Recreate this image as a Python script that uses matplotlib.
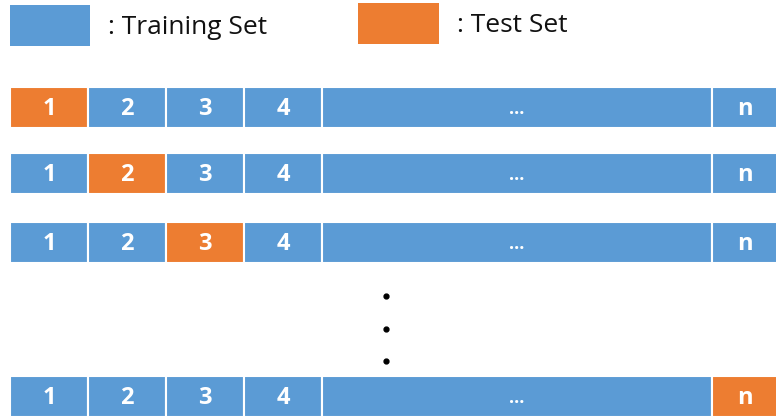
import matplotlib.pyplot as plt

# data
cell_labels = ['1', '2', '3', '4', '...', 'n']
test_fold = [0, 1, 2, 5]          # which cell is the test set, per row
legend_labels = [': Training Set', ': Test Set']

# layout (pixels)
cell_edges = [10, 88, 166, 244, 322, 712, 778]
row_tops = [87, 153, 222, 376]
row_h = 41
blue = '#5B9BD5'
orange = '#ED7D31'

plt.rcParams['font.family'] = ['Open Sans', 'DejaVu Sans']

fig = plt.figure(figsize=(7.76, 4.19), dpi=100)
ax = fig.add_axes([0, 0, 1, 1])
ax.set_xlim(0, 776)
ax.set_ylim(419, 0)
ax.axis('off')

# legend boxes
ax.barh(25.5, 80, left=10, height=41, color=blue, edgecolor='none')
ax.barh(24, 81, left=358, height=41, color=orange, edgecolor='none')
ax.text(108, 28, legend_labels[0], fontsize=19, va='center', ha='left', color='#111111')
ax.text(457, 26, legend_labels[1], fontsize=19, va='center', ha='left', color='#111111')

# folds
for top, t in zip(row_tops, test_fold):
    for i, lab in enumerate(cell_labels):
        left = cell_edges[i]
        w = cell_edges[i + 1] - left
        c = orange if i == t else blue
        ax.barh(top + row_h / 2, w, left=left, height=row_h, color=c,
                edgecolor='white', linewidth=1.5)
        fs = 13 if lab == '...' else 17
        ax.text(left + w / 2, top + row_h / 2 + 1, lab, color='white',
                fontsize=fs, fontweight='bold', ha='center', va='center')

# vertical dots
ax.plot([386, 386, 386], [296, 329, 361], 'o', color='black', markersize=3.5)

fig.savefig('out.png', dpi=100)
